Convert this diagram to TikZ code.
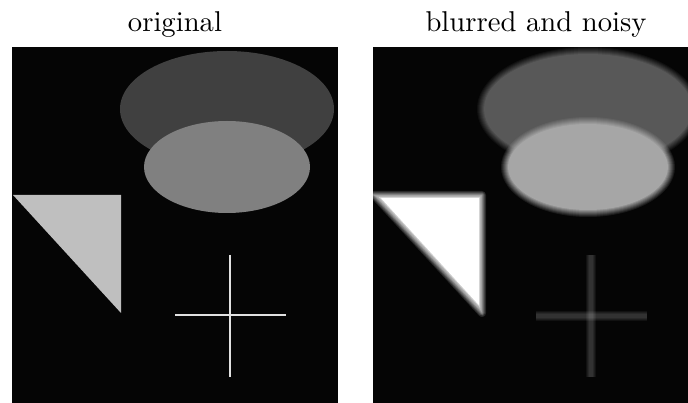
\documentclass[tikz,border=0pt]{standalone}
\usepackage{tikz}
\usepackage{xcolor}
\usetikzlibrary{positioning,calc}

\definecolor{panelbg}{RGB}{5,5,5}
\definecolor{darkoval}{RGB}{64,64,64}
\definecolor{lightoval}{RGB}{128,128,128}
\definecolor{wedgegray}{RGB}{191,191,191}
\definecolor{hairgray}{RGB}{225,225,225}
\definecolor{softdark}{RGB}{88,88,88}
\definecolor{softlight}{RGB}{166,166,166}

\begin{document}
\begin{tikzpicture}[x=0.3488pt, y=-0.3488pt,
    heading/.style={inner sep=0pt, anchor=base},
    panel/.style={fill=panelbg},
    hair/.style={draw=hairgray, line width=0.5pt},
    haze/.style={draw=white, draw opacity=0.05}]
    \useasboundingbox (0,0) rectangle (688,403);

    % Titles
    \node[heading] (origtitle) at (175,32) {original};
    \node[heading] (blurtitle) at (536,32) {blurred and noisy};

    % Original image
    \begin{scope}
        \clip (12,47) rectangle (338,410);
        \fill[panel] (12,47) rectangle (338,410);
        \fill[darkoval] (227,109) ellipse [x radius=107, y radius=58];
        \fill[lightoval] (227,167) ellipse [x radius=83, y radius=46];
        \fill[wedgegray] (13,195) -- (121,195) -- (121,313) -- cycle;
        \draw[hair] (230,255) -- (230,377);
        \draw[hair] (175,315) -- (286,315);
    \end{scope}

    % Blurred and noisy image
    \begin{scope}[shift={(361,0)}]
        \clip (12,47) rectangle (338,410);
        \fill[panel] (12,47) rectangle (338,410);
        \coordinate (inc) at (88,228);
        \coordinate (ta) at (13,195);
        \coordinate (tb) at (121,195);
        \coordinate (tc) at (121,313);
        % soft edges: nested layers, outermost faintest
        \foreach \k in {1,...,8} {
            \pgfmathsetmacro\d{5-\k}
            \pgfmathsetmacro\o{1/(9-\k)}
            \fill[softdark, fill opacity=\o] (227,109) ellipse [x radius=107+\d, y radius=58+\d];
        }
        \foreach \k in {1,...,8} {
            \pgfmathsetmacro\d{5-\k}
            \pgfmathsetmacro\o{1/(9-\k)}
            \fill[softlight, fill opacity=\o] (227,167) ellipse [x radius=83+\d, y radius=46+\d];
        }
        \foreach \k in {1,...,4} {
            \pgfmathsetmacro\o{1/(9-\k)}
            \pgfmathsetmacro\w{(5-\k)*0.6976}
            \draw[white, draw opacity=\o, line width=\w pt, line join=round] (ta) -- (tb) -- (tc) -- cycle;
        }
        \foreach \k in {5,...,8} {
            \pgfmathsetmacro\o{1/(9-\k)}
            \pgfmathsetmacro\s{(38-\k)/33}
            \fill[white, fill opacity=\o] ($(inc)!\s!(ta)$) -- ($(inc)!\s!(tb)$) -- ($(inc)!\s!(tc)$) -- cycle;
        }
        \foreach \w in {3.8,3.1,2.4,1.7} {
            \draw[haze, line width=\w pt] (230,255) -- (230,377);
            \draw[haze, line width=\w pt] (175,316) -- (286,316);
        }
    \end{scope}
\end{tikzpicture}
\end{document}
